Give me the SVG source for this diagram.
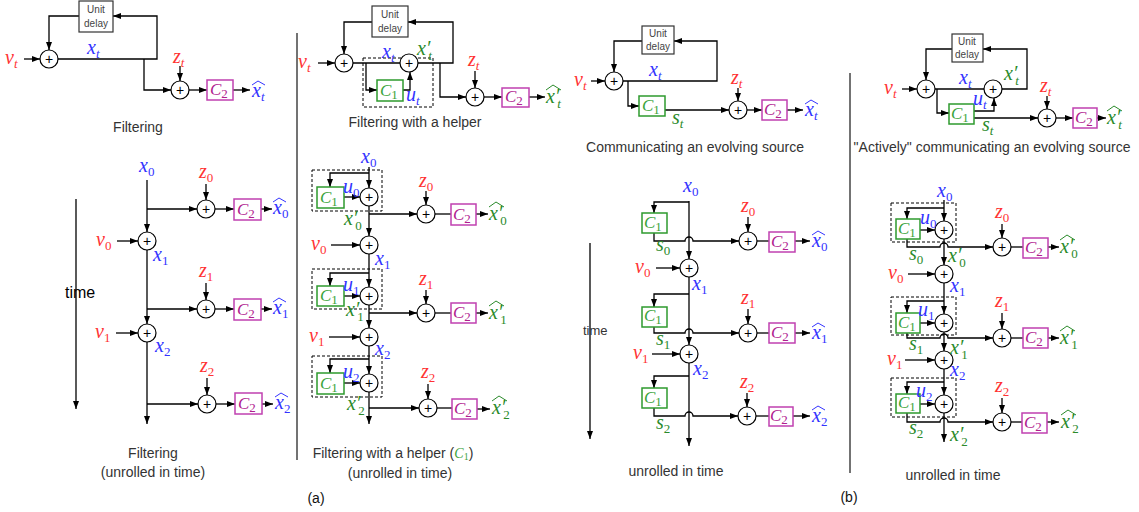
<svg xmlns="http://www.w3.org/2000/svg" width="1139" height="512" viewBox="0 0 1139 512">
<defs>
<marker id="ah" markerUnits="userSpaceOnUse" markerWidth="8" markerHeight="6" refX="8" refY="3" orient="auto"><path d="M0,0 L8,3 L0,6 z" fill="#000"/></marker>
</defs>
<style>
.ln{stroke:#000;stroke-width:1.3;fill:none}
.ar{marker-end:url(#ah)}
.sep{stroke:#444;stroke-width:1.5;fill:none}
.add{fill:#fff;stroke:#000;stroke-width:1.2}
.pl{font-family:"Liberation Sans",sans-serif;font-size:14px;text-anchor:middle;fill:#000}
.ud{fill:#fff;stroke:#333;stroke-width:1.2}
.udt{font-family:"Liberation Sans",sans-serif;font-size:10px;fill:#444;text-anchor:middle}
.c1{fill:#fff;stroke:#2e9a2e;stroke-width:1.5}
.c2{fill:#fff;stroke:#c040b0;stroke-width:1.5}
.dsh{fill:none;stroke:#000;stroke-width:1;stroke-dasharray:3 2}
.m{font-family:"Liberation Serif",serif;font-style:italic;font-size:20px}
.cb{font-family:"Liberation Serif",serif;font-style:italic;font-size:17px}
.si{font-size:13px;font-style:italic}
.sd{font-size:13px;font-style:normal}
.red{fill:#f33}.blue{fill:#33f}.grn{fill:#2a8a2a}.lg{fill:#3aa33a}.mag{fill:#b0208f}
.hb{fill:none;stroke:#33f;stroke-width:1}
.hg{fill:none;stroke:#2a8a2a;stroke-width:1}
.cap{font-family:"Liberation Sans",sans-serif;font-size:14px;fill:#333;text-anchor:middle}
</style>

<g id="separators">
<path class="sep" d="M297,33 V460"/>
<path class="sep" d="M850,73 V473"/>
</g>

<g id="connectors">
<path class="ln ar" d="M24,59 H40"/>
<path class="ln ar" d="M58,59 H157 V16 H113"/>
<path class="ln ar" d="M79,16 H49 V50"/>
<path class="ln ar" d="M144,59 V90 H171"/>
<path class="ln ar" d="M180,66 V81"/>
<path class="ln ar" d="M189,90 H207"/>
<path class="ln ar" d="M233,90 H250"/>
<path class="ln ar" d="M318,63 H335"/>
<path class="ln" d="M353,63 H400"/>
<path class="ln ar" d="M366,63 V90 H377"/>
<path class="ln ar" d="M403,90 H410 V72"/>
<path class="ln ar" d="M418,63 H453 V22 H408"/>
<path class="ln ar" d="M372,22 H344 V54"/>
<path class="ln ar" d="M440,63 V97 H466"/>
<path class="ln ar" d="M475,71 V88"/>
<path class="ln ar" d="M484,97 H502"/>
<path class="ln ar" d="M529,97 H545"/>
<path class="ln ar" d="M591,81 H605"/>
<path class="ln ar" d="M623,81 H717 V41 H674"/>
<path class="ln ar" d="M642,41 H614 V72"/>
<path class="ln ar" d="M628,81 V106 H639"/>
<path class="ln ar" d="M665,110 H729"/>
<path class="ln ar" d="M738,88 V101"/>
<path class="ln ar" d="M747,110 H762"/>
<path class="ln ar" d="M787,110 H803"/>
<path class="ln ar" d="M902,89 H917"/>
<path class="ln" d="M935,89 H984"/>
<path class="ln ar" d="M1002,89 H1027 V49 H983"/>
<path class="ln ar" d="M952,49 H926 V80"/>
<path class="ln ar" d="M937,89 V113 H949"/>
<path class="ln ar" d="M974,111 H994 V98"/>
<path class="ln ar" d="M974,118 H1038"/>
<path class="ln ar" d="M1047,96 V109"/>
<path class="ln ar" d="M1056,118 H1073"/>
<path class="ln ar" d="M1097,118 H1106"/>

<path class="ln ar" d="M147,180 V232"/>
<path class="ln ar" d="M147,209 H197"/>
<path class="ln ar" d="M206,184 V200"/>
<path class="ln ar" d="M215,209 H234"/>
<path class="ln ar" d="M261,209 H272"/>
<path class="ln ar" d="M117,241 H138"/>
<path class="ln ar" d="M147,250 V324"/>
<path class="ln ar" d="M147,309 H197"/>
<path class="ln ar" d="M206,283 V300"/>
<path class="ln ar" d="M215,309 H234"/>
<path class="ln ar" d="M261,309 H272"/>
<path class="ln ar" d="M116,333 H138"/>
<path class="ln ar" d="M147,342 V424"/>
<path class="ln ar" d="M147,404 H198"/>
<path class="ln ar" d="M207,378 V395"/>
<path class="ln ar" d="M216,404 H235"/>
<path class="ln ar" d="M262,404 H273"/>
<path class="ln ar" d="M76,199 V409"/>

<path class="ln ar" d="M369,167 V188"/>
<path class="ln ar" d="M369,173 H330 V187"/>
<path class="ln ar" d="M344,197 H360"/>
<path class="ln ar" d="M369,206 V236"/>
<path class="ln ar" d="M369,214 H417"/>
<path class="ln ar" d="M426,191 V205"/>
<path class="ln" d="M435,214 H451"/>
<path class="ln ar" d="M476,214 H488"/>
<path class="ln ar" d="M331,245 H360"/>
<path class="ln ar" d="M369,254 V287"/>
<path class="ln ar" d="M369,273 H330 V286"/>
<path class="ln ar" d="M344,296 H360"/>
<path class="ln ar" d="M369,305 V328"/>
<path class="ln ar" d="M369,313 H417"/>
<path class="ln ar" d="M426,290 V304"/>
<path class="ln" d="M435,313 H451"/>
<path class="ln ar" d="M476,313 H488"/>
<path class="ln ar" d="M329,337 H360"/>
<path class="ln ar" d="M369,346 V374"/>
<path class="ln ar" d="M369,359 H330 V373"/>
<path class="ln ar" d="M344,383 H360"/>
<path class="ln ar" d="M369,392 V424"/>
<path class="ln ar" d="M369,408 H419"/>
<path class="ln ar" d="M428,384 V399"/>
<path class="ln" d="M437,408 H452"/>
<path class="ln ar" d="M477,409 H490"/>

<path class="ln ar" d="M689,201 V259"/>
<path class="ln ar" d="M689,202 H654 V213"/>
<path class="ln ar" d="M654,233 V241 H685 A4,4 0 0 1 693,241 H739"/>
<path class="ln ar" d="M748,217 V232"/>
<path class="ln" d="M757,241 H769"/>
<path class="ln ar" d="M795,241 H810"/>
<path class="ln ar" d="M656,268 H680"/>
<path class="ln ar" d="M689,277 V345"/>
<path class="ln ar" d="M689,294 H654 V307"/>
<path class="ln ar" d="M654,327 V333 H685 A4,4 0 0 1 693,333 H739"/>
<path class="ln ar" d="M748,309 V324"/>
<path class="ln" d="M757,333 H769"/>
<path class="ln ar" d="M795,333 H810"/>
<path class="ln ar" d="M652,354 H680"/>
<path class="ln ar" d="M689,363 V446"/>
<path class="ln ar" d="M689,376 H654 V388"/>
<path class="ln ar" d="M654,408 V416 H685 A4,4 0 0 1 693,416 H738"/>
<path class="ln ar" d="M747,393 V407"/>
<path class="ln" d="M756,416 H769"/>
<path class="ln ar" d="M793,416 H810"/>
<path class="ln ar" d="M590,243 V439"/>

<path class="ln ar" d="M944,200 V221"/>
<path class="ln ar" d="M944,208 H907 V219"/>
<path class="ln ar" d="M920,230 H935"/>
<path class="ln ar" d="M907,239 V247 H940 A4,4 0 0 1 948,247 H993"/>
<path class="ln ar" d="M944,239 V265"/>
<path class="ln ar" d="M1002,224 V238"/>
<path class="ln" d="M1011,247 H1023"/>
<path class="ln ar" d="M1048,247 H1059"/>
<path class="ln ar" d="M908,274 H935"/>
<path class="ln ar" d="M944,283 V314"/>
<path class="ln ar" d="M944,301 H907 V313"/>
<path class="ln ar" d="M920,323 H935"/>
<path class="ln ar" d="M907,333 V338 H940 A4,4 0 0 1 948,338 H993"/>
<path class="ln ar" d="M944,332 V351"/>
<path class="ln ar" d="M1002,313 V329"/>
<path class="ln" d="M1011,338 H1023"/>
<path class="ln ar" d="M1048,338 H1059"/>
<path class="ln ar" d="M905,360 H935"/>
<path class="ln ar" d="M944,369 V395"/>
<path class="ln ar" d="M944,382 H907 V394"/>
<path class="ln ar" d="M920,404 H935"/>
<path class="ln ar" d="M907,413 V422 H940 A4,4 0 0 1 948,422 H993"/>
<path class="ln ar" d="M944,413 V442"/>
<path class="ln ar" d="M1002,398 V413"/>
<path class="ln" d="M1011,422 H1022"/>
<path class="ln ar" d="M1047,422 H1059"/>
</g>

<!-- ===== Panel 1 top ===== -->
<g id="p1t-delay"><rect class="ud" x="79" y="1" width="34" height="31"/><text class="udt" x="96" y="13">Unit</text><text class="udt" x="96" y="27">delay</text></g>
<g id="p1t-add1"><circle class="add" cx="49" cy="59" r="9"/><text class="pl" x="49" y="64">+</text></g>
<g id="p1t-add2"><circle class="add" cx="180" cy="90" r="9"/><text class="pl" x="180" y="95">+</text></g>
<g id="p1t-c2"><rect class="c2" x="207" y="80" width="26" height="20"/><text class="cb mag" x="210" y="95">C<tspan class="sd" dy="3">2</tspan></text></g>
<g id="p1t-labels">
<text class="m red" x="5" y="64">ν<tspan class="si" dy="4">t</tspan></text>
<text class="m blue" x="87" y="54">x<tspan class="si" dy="4">t</tspan></text>
<text class="m red" x="173" y="63">z<tspan class="si" dy="4">t</tspan></text>
<text class="m blue" x="252" y="97">x<tspan class="si" dy="4">t</tspan></text><polyline class="hb" points="252,85 258,81 265,85"/>
<text class="cap" x="138" y="132">Filtering</text>
</g>

<!-- ===== Panel 2 top ===== -->
<g id="p2t-delay"><rect class="ud" x="372" y="6" width="36" height="31"/><text class="udt" x="390" y="18">Unit</text><text class="udt" x="390" y="32">delay</text></g>
<g id="p2t-helper"><rect class="dsh" x="363" y="58" width="70" height="49"/></g>
<g id="p2t-addA"><circle class="add" cx="344" cy="63" r="9"/><text class="pl" x="344" y="68">+</text></g>
<g id="p2t-addB"><circle class="add" cx="409" cy="63" r="9"/><text class="pl" x="409" y="68">+</text></g>
<g id="p2t-c1"><rect class="c1" x="377" y="80" width="26" height="21"/><text class="cb lg" x="380" y="96">C<tspan class="sd" dy="3">1</tspan></text></g>
<g id="p2t-addC"><circle class="add" cx="475" cy="97" r="9"/><text class="pl" x="475" y="102">+</text></g>
<g id="p2t-c2"><rect class="c2" x="502" y="88" width="27" height="19"/><text class="cb mag" x="505" y="102">C<tspan class="sd" dy="3">2</tspan></text></g>
<g id="p2t-labels">
<text class="m red" x="298" y="68">ν<tspan class="si" dy="4">t</tspan></text>
<text class="m blue" x="382" y="58">x<tspan class="si" dy="4">t</tspan></text>
<text class="m grn" x="417" y="55">x′<tspan class="si" dx="-2" dy="5">t</tspan></text>
<text class="m blue" x="406" y="101">u<tspan class="si" dy="4">t</tspan></text>
<text class="m red" x="468" y="66">z<tspan class="si" dy="4">t</tspan></text>
<text class="m grn" x="546" y="103">x′<tspan class="si" dx="-2" dy="5">t</tspan></text><polyline class="hg" points="546,90 553,85 561,90"/>
<text class="cap" x="415" y="127">Filtering with a helper</text>
</g>

<!-- ===== Panel 3 top ===== -->
<g id="p3t-delay"><rect class="ud" x="642" y="26" width="32" height="28"/><text class="udt" x="658" y="37">Unit</text><text class="udt" x="658" y="50">delay</text></g>
<g id="p3t-add1"><circle class="add" cx="614" cy="81" r="9"/><text class="pl" x="614" y="86">+</text></g>
<g id="p3t-c1"><rect class="c1" x="639" y="96" width="26" height="20"/><text class="cb lg" x="642" y="111">C<tspan class="sd" dy="3">1</tspan></text></g>
<g id="p3t-add2"><circle class="add" cx="738" cy="110" r="9"/><text class="pl" x="738" y="115">+</text></g>
<g id="p3t-c2"><rect class="c2" x="762" y="100" width="25" height="20"/><text class="cb mag" x="764" y="115">C<tspan class="sd" dy="3">2</tspan></text></g>
<g id="p3t-labels">
<text class="m red" x="574" y="86">ν<tspan class="si" dy="4">t</tspan></text>
<text class="m blue" x="649" y="76">x<tspan class="si" dy="4">t</tspan></text>
<text class="m grn" x="672" y="124">s<tspan class="si" dy="4">t</tspan></text>
<text class="m red" x="731" y="84">z<tspan class="si" dy="4">t</tspan></text>
<text class="m blue" x="805" y="116">x<tspan class="si" dy="4">t</tspan></text><polyline class="hb" points="805,104 811,100 818,104"/>
<text class="cap" x="695" y="152">Communicating an evolving source</text>
</g>

<!-- ===== Panel 4 top ===== -->
<g id="p4t-delay"><rect class="ud" x="952" y="34" width="31" height="28"/><text class="udt" x="967" y="45">Unit</text><text class="udt" x="967" y="58">delay</text></g>
<g id="p4t-addA"><circle class="add" cx="926" cy="89" r="9"/><text class="pl" x="926" y="94">+</text></g>
<g id="p4t-addB"><circle class="add" cx="993" cy="89" r="9"/><text class="pl" x="993" y="94">+</text></g>
<g id="p4t-c1"><rect class="c1" x="949" y="104" width="25" height="20"/><text class="cb lg" x="951" y="119">C<tspan class="sd" dy="3">1</tspan></text></g>
<g id="p4t-addC"><circle class="add" cx="1047" cy="118" r="9"/><text class="pl" x="1047" y="123">+</text></g>
<g id="p4t-c2"><rect class="c2" x="1073" y="108" width="24" height="20"/><text class="cb mag" x="1075" y="123">C<tspan class="sd" dy="3">2</tspan></text></g>
<g id="p4t-labels">
<text class="m red" x="884" y="94">ν<tspan class="si" dy="4">t</tspan></text>
<text class="m blue" x="959" y="84">x<tspan class="si" dy="4">t</tspan></text>
<text class="m grn" x="1004" y="80">x′<tspan class="si" dx="-2" dy="5">t</tspan></text>
<text class="m blue" x="973" y="105">u<tspan class="si" dy="4">t</tspan></text>
<text class="m grn" x="982" y="131">s<tspan class="si" dy="4">t</tspan></text>
<text class="m red" x="1040" y="92">z<tspan class="si" dy="4">t</tspan></text>
<text class="m grn" x="1107" y="124">x′<tspan class="si" dx="-2" dy="5">t</tspan></text><polyline class="hg" points="1107,111 1114,106 1122,111"/>
<text class="cap" x="992" y="152">"Actively" communicating an evolving source</text>
</g>

<!-- ===== Panel 1 bottom ===== -->
<g id="p1b-nu0"><circle class="add" cx="147" cy="241" r="9"/><text class="pl" x="147" y="246">+</text></g>
<g id="p1b-nu1"><circle class="add" cx="147" cy="333" r="9"/><text class="pl" x="147" y="338">+</text></g>
<g id="p1b-z0"><circle class="add" cx="206" cy="209" r="9"/><text class="pl" x="206" y="214">+</text></g>
<g id="p1b-z1"><circle class="add" cx="206" cy="309" r="9"/><text class="pl" x="206" y="314">+</text></g>
<g id="p1b-z2"><circle class="add" cx="207" cy="404" r="9"/><text class="pl" x="207" y="409">+</text></g>
<g id="p1b-c2a"><rect class="c2" x="234" y="199" width="27" height="21"/><text class="cb mag" x="237" y="215">C<tspan class="sd" dy="3">2</tspan></text></g>
<g id="p1b-c2b"><rect class="c2" x="234" y="299" width="27" height="21"/><text class="cb mag" x="237" y="315">C<tspan class="sd" dy="3">2</tspan></text></g>
<g id="p1b-c2c"><rect class="c2" x="235" y="393" width="27" height="21"/><text class="cb mag" x="238" y="409">C<tspan class="sd" dy="3">2</tspan></text></g>
<g id="p1b-labels">
<text class="m blue" x="139" y="172">x<tspan class="sd" dy="4">0</tspan></text>
<text class="m red" x="199" y="178">z<tspan class="sd" dy="4">0</tspan></text>
<text class="m blue" x="273" y="214">x<tspan class="sd" dy="4">0</tspan></text><polyline class="hb" points="273,202 279,198 286,202"/>
<text class="m red" x="96" y="246">ν<tspan class="sd" dy="4">0</tspan></text>
<text class="m blue" x="153" y="261">x<tspan class="sd" dy="4">1</tspan></text>
<text class="m red" x="199" y="277">z<tspan class="sd" dy="4">1</tspan></text>
<text class="m blue" x="273" y="314">x<tspan class="sd" dy="4">1</tspan></text><polyline class="hb" points="273,302 279,298 286,302"/>
<text class="m red" x="95" y="338">ν<tspan class="sd" dy="4">1</tspan></text>
<text class="m blue" x="155" y="352">x<tspan class="sd" dy="4">2</tspan></text>
<text class="m red" x="200" y="372">z<tspan class="sd" dy="4">2</tspan></text>
<text class="m blue" x="275" y="409">x<tspan class="sd" dy="4">2</tspan></text><polyline class="hb" points="275,397 281,393 288,397"/>
<text x="65" y="298" font-family="Liberation Sans, sans-serif" font-size="16" fill="#000">time</text>
<text class="cap" x="153" y="458">Filtering</text>
<text class="cap" x="153" y="477">(unrolled in time)</text>
</g>

<!-- ===== Panel 2 bottom ===== -->
<g id="p2b-h0"><rect class="dsh" x="312" y="170" width="70" height="41"/></g>
<g id="p2b-h1"><rect class="dsh" x="312" y="269" width="70" height="40"/></g>
<g id="p2b-h2"><rect class="dsh" x="312" y="356" width="70" height="41"/></g>
<g id="p2b-c1a"><rect class="c1" x="317" y="187" width="27" height="21"/><text class="cb lg" x="320" y="203">C<tspan class="sd" dy="3">1</tspan></text></g>
<g id="p2b-c1b"><rect class="c1" x="317" y="286" width="27" height="20"/><text class="cb lg" x="320" y="301">C<tspan class="sd" dy="3">1</tspan></text></g>
<g id="p2b-c1c"><rect class="c1" x="317" y="373" width="27" height="21"/><text class="cb lg" x="320" y="389">C<tspan class="sd" dy="3">1</tspan></text></g>
<g id="p2b-u0"><circle class="add" cx="369" cy="197" r="9"/><text class="pl" x="369" y="202">+</text></g>
<g id="p2b-u1"><circle class="add" cx="369" cy="296" r="9"/><text class="pl" x="369" y="301">+</text></g>
<g id="p2b-u2"><circle class="add" cx="369" cy="383" r="9"/><text class="pl" x="369" y="388">+</text></g>
<g id="p2b-nu0"><circle class="add" cx="369" cy="245" r="9"/><text class="pl" x="369" y="250">+</text></g>
<g id="p2b-nu1"><circle class="add" cx="369" cy="337" r="9"/><text class="pl" x="369" y="342">+</text></g>
<g id="p2b-z0"><circle class="add" cx="426" cy="214" r="9"/><text class="pl" x="426" y="219">+</text></g>
<g id="p2b-z1"><circle class="add" cx="426" cy="313" r="9"/><text class="pl" x="426" y="318">+</text></g>
<g id="p2b-z2"><circle class="add" cx="428" cy="408" r="9"/><text class="pl" x="428" y="413">+</text></g>
<g id="p2b-c2a"><rect class="c2" x="451" y="204" width="25" height="21"/><text class="cb mag" x="453" y="220">C<tspan class="sd" dy="3">2</tspan></text></g>
<g id="p2b-c2b"><rect class="c2" x="451" y="303" width="25" height="20"/><text class="cb mag" x="453" y="318">C<tspan class="sd" dy="3">2</tspan></text></g>
<g id="p2b-c2c"><rect class="c2" x="452" y="399" width="25" height="20"/><text class="cb mag" x="454" y="414">C<tspan class="sd" dy="3">2</tspan></text></g>
<g id="p2b-labels">
<text class="m blue" x="361" y="163">x<tspan class="sd" dy="4">0</tspan></text>
<text class="m blue" x="343" y="193">u<tspan class="sd" dy="4">0</tspan></text>
<text class="m grn" x="344" y="225">x′<tspan class="sd" dx="-2" dy="5">0</tspan></text>
<text class="m red" x="419" y="187">z<tspan class="sd" dy="4">0</tspan></text>
<text class="m grn" x="489" y="220">x′<tspan class="sd" dx="-2" dy="5">0</tspan></text><polyline class="hg" points="489,207 496,202 504,207"/>
<text class="m red" x="311" y="250">ν<tspan class="sd" dy="4">0</tspan></text>
<text class="m blue" x="375" y="265">x<tspan class="sd" dy="4">1</tspan></text>
<text class="m blue" x="343" y="291">u<tspan class="sd" dy="4">1</tspan></text>
<text class="m grn" x="346" y="316">x′<tspan class="sd" dx="-2" dy="5">1</tspan></text>
<text class="m red" x="419" y="285">z<tspan class="sd" dy="4">1</tspan></text>
<text class="m grn" x="489" y="319">x′<tspan class="sd" dx="-2" dy="5">1</tspan></text><polyline class="hg" points="489,306 496,301 504,306"/>
<text class="m red" x="309" y="342">ν<tspan class="sd" dy="4">1</tspan></text>
<text class="m blue" x="375" y="355">x<tspan class="sd" dy="4">2</tspan></text>
<text class="m blue" x="343" y="378">u<tspan class="sd" dy="4">2</tspan></text>
<text class="m grn" x="347" y="410">x′<tspan class="sd" dx="-2" dy="5">2</tspan></text>
<text class="m red" x="421" y="378">z<tspan class="sd" dy="4">2</tspan></text>
<text class="m grn" x="492" y="414">x′<tspan class="sd" dx="-2" dy="5">2</tspan></text><polyline class="hg" points="492,401 499,396 507,401"/>
<text class="cap" x="393" y="458">Filtering with a helper (<tspan class="lg" font-family="Liberation Serif, serif" font-style="italic">C</tspan><tspan class="lg" font-family="Liberation Serif, serif" font-size="10" dy="2">1</tspan><tspan dy="-2">)</tspan></text>
<text class="cap" x="400" y="478">(unrolled in time)</text>
<text x="316" y="503" font-family="Liberation Sans, sans-serif" font-size="14" fill="#111" text-anchor="middle">(a)</text>
</g>

<!-- ===== Panel 3 bottom ===== -->
<g id="p3b-c1a"><rect class="c1" x="642" y="213" width="25" height="20"/><text class="cb lg" x="644" y="228">C<tspan class="sd" dy="3">1</tspan></text></g>
<g id="p3b-c1b"><rect class="c1" x="642" y="307" width="25" height="20"/><text class="cb lg" x="644" y="321">C<tspan class="sd" dy="3">1</tspan></text></g>
<g id="p3b-c1c"><rect class="c1" x="642" y="388" width="25" height="20"/><text class="cb lg" x="644" y="403">C<tspan class="sd" dy="3">1</tspan></text></g>
<g id="p3b-nu0"><circle class="add" cx="689" cy="268" r="9"/><text class="pl" x="689" y="273">+</text></g>
<g id="p3b-nu1"><circle class="add" cx="689" cy="354" r="9"/><text class="pl" x="689" y="359">+</text></g>
<g id="p3b-z0"><circle class="add" cx="748" cy="241" r="9"/><text class="pl" x="748" y="246">+</text></g>
<g id="p3b-z1"><circle class="add" cx="748" cy="333" r="9"/><text class="pl" x="748" y="338">+</text></g>
<g id="p3b-z2"><circle class="add" cx="747" cy="416" r="9"/><text class="pl" x="747" y="421">+</text></g>
<g id="p3b-c2a"><rect class="c2" x="769" y="232" width="26" height="20"/><text class="cb mag" x="771" y="247">C<tspan class="sd" dy="3">2</tspan></text></g>
<g id="p3b-c2b"><rect class="c2" x="769" y="323" width="26" height="20"/><text class="cb mag" x="771" y="338">C<tspan class="sd" dy="3">2</tspan></text></g>
<g id="p3b-c2c"><rect class="c2" x="769" y="407" width="24" height="19"/><text class="cb mag" x="770" y="421">C<tspan class="sd" dy="3">2</tspan></text></g>
<g id="p3b-labels">
<text class="m blue" x="683" y="192">x<tspan class="sd" dy="4">0</tspan></text>
<text class="m grn" x="656" y="251">s<tspan class="sd" dy="4">0</tspan></text>
<text class="m red" x="741" y="212">z<tspan class="sd" dy="4">0</tspan></text>
<text class="m blue" x="812" y="247">x<tspan class="sd" dy="4">0</tspan></text><polyline class="hb" points="812,235 818,231 825,235"/>
<text class="m red" x="635" y="273">ν<tspan class="sd" dy="4">0</tspan></text>
<text class="m blue" x="692" y="290">x<tspan class="sd" dy="4">1</tspan></text>
<text class="m grn" x="656" y="345">s<tspan class="sd" dy="4">1</tspan></text>
<text class="m red" x="741" y="304">z<tspan class="sd" dy="4">1</tspan></text>
<text class="m blue" x="812" y="339">x<tspan class="sd" dy="4">1</tspan></text><polyline class="hb" points="812,327 818,323 825,327"/>
<text class="m red" x="633" y="359">ν<tspan class="sd" dy="4">1</tspan></text>
<text class="m blue" x="693" y="375">x<tspan class="sd" dy="4">2</tspan></text>
<text class="m grn" x="656" y="429">s<tspan class="sd" dy="4">2</tspan></text>
<text class="m red" x="740" y="388">z<tspan class="sd" dy="4">2</tspan></text>
<text class="m blue" x="812" y="422">x<tspan class="sd" dy="4">2</tspan></text><polyline class="hb" points="812,410 818,406 825,410"/>
<text x="583" y="335" font-family="Liberation Sans, sans-serif" font-size="13" fill="#333">time</text>
<text class="cap" x="676" y="476">unrolled in time</text>
</g>

<!-- ===== Panel 4 bottom ===== -->
<g id="p4b-h0"><rect class="dsh" x="891" y="203" width="65" height="39"/></g>
<g id="p4b-h1"><rect class="dsh" x="891" y="297" width="65" height="38"/></g>
<g id="p4b-h2"><rect class="dsh" x="891" y="378" width="65" height="39"/></g>
<g id="p4b-c1a"><rect class="c1" x="896" y="219" width="24" height="20"/><text class="cb lg" x="898" y="234">C<tspan class="sd" dy="3">1</tspan></text></g>
<g id="p4b-c1b"><rect class="c1" x="896" y="313" width="24" height="20"/><text class="cb lg" x="898" y="328">C<tspan class="sd" dy="3">1</tspan></text></g>
<g id="p4b-c1c"><rect class="c1" x="896" y="394" width="24" height="19"/><text class="cb lg" x="898" y="408">C<tspan class="sd" dy="3">1</tspan></text></g>
<g id="p4b-u0"><circle class="add" cx="944" cy="230" r="9"/><text class="pl" x="944" y="235">+</text></g>
<g id="p4b-u1"><circle class="add" cx="944" cy="323" r="9"/><text class="pl" x="944" y="328">+</text></g>
<g id="p4b-u2"><circle class="add" cx="944" cy="404" r="9"/><text class="pl" x="944" y="409">+</text></g>
<g id="p4b-nu0"><circle class="add" cx="944" cy="274" r="9"/><text class="pl" x="944" y="279">+</text></g>
<g id="p4b-nu1"><circle class="add" cx="944" cy="360" r="9"/><text class="pl" x="944" y="365">+</text></g>
<g id="p4b-z0"><circle class="add" cx="1002" cy="247" r="9"/><text class="pl" x="1002" y="252">+</text></g>
<g id="p4b-z1"><circle class="add" cx="1002" cy="338" r="9"/><text class="pl" x="1002" y="343">+</text></g>
<g id="p4b-z2"><circle class="add" cx="1002" cy="422" r="9"/><text class="pl" x="1002" y="427">+</text></g>
<g id="p4b-c2a"><rect class="c2" x="1023" y="238" width="25" height="20"/><text class="cb mag" x="1025" y="253">C<tspan class="sd" dy="3">2</tspan></text></g>
<g id="p4b-c2b"><rect class="c2" x="1023" y="328" width="25" height="20"/><text class="cb mag" x="1025" y="343">C<tspan class="sd" dy="3">2</tspan></text></g>
<g id="p4b-c2c"><rect class="c2" x="1022" y="413" width="25" height="20"/><text class="cb mag" x="1024" y="428">C<tspan class="sd" dy="3">2</tspan></text></g>
<g id="p4b-labels">
<text class="m blue" x="937" y="197">x<tspan class="sd" dy="4">0</tspan></text>
<text class="m blue" x="920" y="224">u<tspan class="sd" dy="4">0</tspan></text>
<text class="m grn" x="909" y="260">s<tspan class="sd" dy="4">0</tspan></text>
<text class="m grn" x="948" y="262">x′<tspan class="sd" dx="-2" dy="5">0</tspan></text>
<text class="m red" x="995" y="218">z<tspan class="sd" dy="4">0</tspan></text>
<text class="m grn" x="1060" y="253">x′<tspan class="sd" dx="-2" dy="5">0</tspan></text><polyline class="hg" points="1060,240 1067,235 1075,240"/>
<text class="m red" x="888" y="279">ν<tspan class="sd" dy="4">0</tspan></text>
<text class="m blue" x="950" y="292">x<tspan class="sd" dy="4">1</tspan></text>
<text class="m blue" x="918" y="316">u<tspan class="sd" dy="4">1</tspan></text>
<text class="m grn" x="909" y="350">s<tspan class="sd" dy="4">1</tspan></text>
<text class="m grn" x="950" y="354">x′<tspan class="sd" dx="-2" dy="5">1</tspan></text>
<text class="m red" x="995" y="307">z<tspan class="sd" dy="4">1</tspan></text>
<text class="m grn" x="1060" y="344">x′<tspan class="sd" dx="-2" dy="5">1</tspan></text><polyline class="hg" points="1060,331 1067,326 1075,331"/>
<text class="m red" x="887" y="365">ν<tspan class="sd" dy="4">1</tspan></text>
<text class="m blue" x="950" y="376">x<tspan class="sd" dy="4">2</tspan></text>
<text class="m blue" x="916" y="397">u<tspan class="sd" dy="4">2</tspan></text>
<text class="m grn" x="909" y="434">s<tspan class="sd" dy="4">2</tspan></text>
<text class="m grn" x="950" y="441">x′<tspan class="sd" dx="-2" dy="5">2</tspan></text>
<text class="m red" x="995" y="392">z<tspan class="sd" dy="4">2</tspan></text>
<text class="m grn" x="1061" y="428">x′<tspan class="sd" dx="-2" dy="5">2</tspan></text><polyline class="hg" points="1061,415 1068,410 1076,415"/>
<text class="cap" x="953" y="480">unrolled in time</text>
<text x="849" y="502" font-family="Liberation Sans, sans-serif" font-size="14" fill="#111" text-anchor="middle">(b)</text>
</g>
</svg>
